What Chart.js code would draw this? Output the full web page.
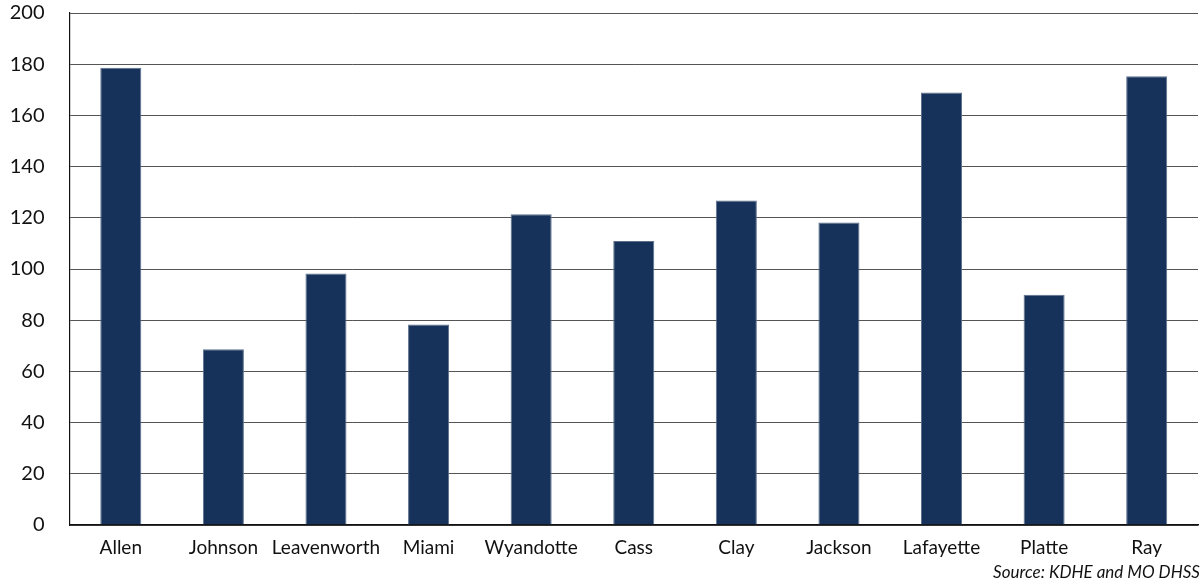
<!DOCTYPE html>
<html>
<head>
<meta charset="utf-8">
<script src="https://cdn.jsdelivr.net/npm/chart.js@4/dist/chart.umd.min.js"></script>
<style>
    html, body { margin: 0; padding: 0; background: #fff; }
    #wrap { position: relative; width: 1201px; height: 581px; }
    #source {
        position: absolute; right: 1px; top: 561px;
        font-family: Lato, 'Open Sans', sans-serif; font-style: italic;
        font-size: 17px; color: #111;
    }
</style>
</head>
<body>
<div id="wrap">
    <canvas id="chart" width="1201" height="581"></canvas>
    <div id="source">Source: KDHE and MO DHSS</div>
</div>
<script>
const counties = ['Allen', 'Johnson', 'Leavenworth', 'Miami', 'Wyandotte', 'Cass', 'Clay', 'Jackson', 'Lafayette', 'Platte', 'Ray'];
const rates = [178.6, 68.7, 98.2, 78.3, 121.4, 110.9, 126.8, 118.2, 168.9, 89.9, 175.3];

const yMin = 0;
const yMax = 200;
const yStep = 20;

const ctx = document.getElementById('chart').getContext('2d');
new Chart(ctx, {
    type: 'bar',
    data: {
        labels: counties,
        datasets: [{
            data: rates,
            backgroundColor: '#16325a',
            borderColor: '#5d708c',
            borderWidth: 1,
            barPercentage: 0.4,
            categoryPercentage: 1
        }]
    },
    options: {
        responsive: false,
        animation: false,
        layout: { padding: { top: 13, right: 3, bottom: 0, left: 0 } },
        plugins: { legend: { display: false }, tooltip: { enabled: false } },
        scales: {
            x: {
                grid: { display: false },
                border: { color: '#111', width: 1.5 },
                ticks: { color: '#111', font: { family: 'Lato', size: 19 }, padding: 3, maxRotation: 0, autoSkip: false },
                afterFit: s => { s.height = 56; s.paddingLeft = 0; s.paddingRight = 0; }
            },
            y: {
                min: yMin,
                max: yMax,
                grid: { color: '#555', lineWidth: 1, drawTicks: false },
                border: { color: '#111', width: 1.2 },
                ticks: { stepSize: yStep, color: '#111', font: { family: 'Lato', size: 20 }, padding: 25 },
                afterFit: s => { s.width = 69.5; s.paddingTop = 0; s.paddingBottom = 0; }
            }
        }
    }
});
</script>
</body>
</html>
